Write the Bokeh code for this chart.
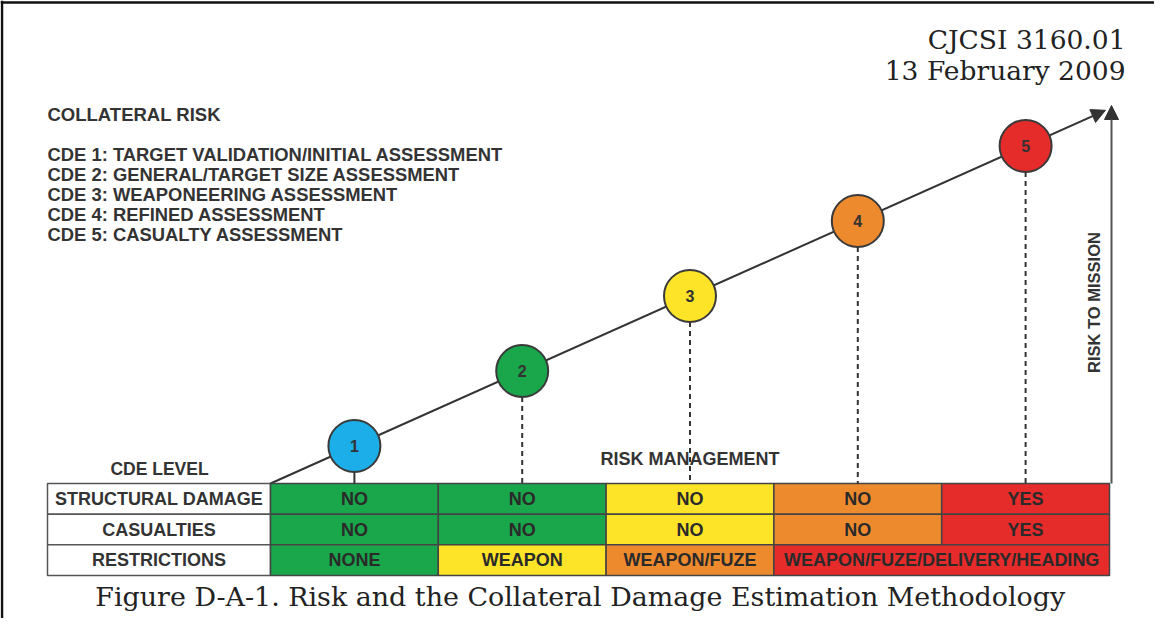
from bokeh.plotting import figure
from bokeh.models import Range1d, Arrow, NormalHead, ColumnDataSource, Span
from bokeh.core.properties import value
from bokeh.embed import file_html
from bokeh.resources import INLINE

# ---------------- data ----------------
levels = [1, 2, 3, 4, 5]
level_names = [
    "TARGET VALIDATION/INITIAL ASSESSMENT",
    "GENERAL/TARGET SIZE ASSESSMENT",
    "WEAPONEERING ASSESSMENT",
    "REFINED ASSESSMENT",
    "CASUALTY ASSESSMENT",
]
row_labels = ["STRUCTURAL DAMAGE", "CASUALTIES", "RESTRICTIONS"]
structural_damage = ["NO", "NO", "NO", "NO", "YES"]
casualties = ["NO", "NO", "NO", "NO", "YES"]
restrictions = ["NONE", "WEAPON", "WEAPON/FUZE", "WEAPON/FUZE/DELIVERY/HEADING"]
restriction_first_level = [1, 2, 3, 4]
restriction_last_level = [1, 2, 3, 5]
header_lines = ["CJCSI 3160.01", "13 February 2009"]
block_title = "COLLATERAL RISK"
caption = "Figure D-A-1.  Risk and the Collateral Damage Estimation Methodology"

# ---------------- styles ----------------
GREEN, YELLOW, ORANGE, RED, BLUE = "#1aa64a", "#fde428", "#ee8a2e", "#e62b2b", "#1caee8"
circle_colors = [BLUE, GREEN, YELLOW, ORANGE, RED]
cell_colors = [GREEN, GREEN, YELLOW, ORANGE, RED]
restriction_colors = [GREEN, YELLOW, ORANGE, RED]
INK = "#333333"
SANS = value("Liberation Sans")
SERIF = value("DejaVu Serif")

# ---------------- geometry ----------------
W, H = 1154, 618
PX = 167.8                      # screen pixels per CDE level column
XL = 0.5 - 270 / PX
XR = XL + W / PX
TABLE_TOP = 135.0
ROW_H = 30.67
LABEL_LEFT = 0.5 - 223 / PX
RISK_PER_LEVEL = 75.0
R_PX = 26


def risk_y(lv):
    return TABLE_TOP + (lv - 0.5) * RISK_PER_LEVEL


p = figure(width=W, height=H, output_backend="svg", toolbar_location=None,
           x_range=Range1d(XL, XR), y_range=Range1d(0, H),
           x_axis_type=None, y_axis_type=None, min_border=0)
p.outline_line_color = None
p.grid.visible = False
p.background_fill_color = "white"
p.border_fill_color = "white"

# page frame (top and left edges visible)
p.add_layout(Span(location=616, dimension="width", line_color="#111111", line_width=2.5))
p.add_layout(Span(location=XL + 1.5 / PX, dimension="height", line_color="#111111", line_width=2.5))

# ---------------- risk diagonal & arrows (beneath the circles) ----------------
x_tip = 5.476
p.add_layout(Arrow(end=NormalHead(size=14, fill_color=INK, line_color=INK),
                   x_start=0.5, y_start=TABLE_TOP, x_end=x_tip, y_end=risk_y(x_tip),
                   line_color=INK, line_width=2, level="underlay"))
x_vert = 5.5 + 2 / PX
p.add_layout(Arrow(end=NormalHead(size=14, fill_color=INK, line_color=INK),
                   x_start=x_vert, y_start=TABLE_TOP, x_end=x_vert, y_end=513,
                   line_color="#555555", line_width=2, level="underlay"))

# ---------------- table ----------------
row_top = [TABLE_TOP - i * ROW_H for i in range(3)]
# label column
p.quad(left=[LABEL_LEFT] * 3, right=[0.5] * 3,
       top=row_top, bottom=[t - ROW_H for t in row_top],
       fill_color="white", line_color="#555555", line_width=1.5)
p.text(x=[(LABEL_LEFT + 0.5) / 2] * 3, y=[t - ROW_H / 2 for t in row_top], text=row_labels,
       text_font=SANS, text_font_style="bold", text_font_size="18px", text_color=INK,
       text_align="center", text_baseline="middle")

# rows 1 and 2
for ri, vals in enumerate([structural_damage, casualties]):
    src = ColumnDataSource(dict(
        left=[lv - 0.5 for lv in levels], right=[lv + 0.5 for lv in levels],
        top=[row_top[ri]] * 5, bottom=[row_top[ri] - ROW_H] * 5,
        x=levels, y=[row_top[ri] - ROW_H / 2] * 5, txt=vals, color=cell_colors))
    p.quad(left="left", right="right", top="top", bottom="bottom", source=src,
           fill_color="color", line_color="#444444", line_width=1.5)
    p.text(x="x", y="y", text="txt", source=src, text_font=SANS, text_font_style="bold",
           text_font_size="18px", text_color="#2a2a2a", text_align="center", text_baseline="middle")

# restrictions row
src = ColumnDataSource(dict(
    left=[a - 0.5 for a in restriction_first_level], right=[b + 0.5 for b in restriction_last_level],
    top=[row_top[2]] * 4, bottom=[row_top[2] - ROW_H] * 4,
    x=[(a + b) / 2 for a, b in zip(restriction_first_level, restriction_last_level)],
    y=[row_top[2] - ROW_H / 2] * 4, txt=restrictions, color=restriction_colors))
p.quad(left="left", right="right", top="top", bottom="bottom", source=src,
       fill_color="color", line_color="#444444", line_width=1.5)
p.text(x="x", y="y", text="txt", source=src, text_font=SANS, text_font_style="bold",
       text_font_size="18px", text_color="#2a2a2a", text_align="center", text_baseline="middle")

# connectors from circles down to the table
cy = [risk_y(lv) for lv in levels]
p.segment(x0=levels[:1], y0=[cy[0] - R_PX], x1=levels[:1], y1=[TABLE_TOP],
          line_color=INK, line_width=2)
p.segment(x0=levels[1:], y0=[c - R_PX for c in cy[1:]], x1=levels[1:], y1=[TABLE_TOP] * 4,
          line_color=INK, line_width=2, line_dash="5 4")

# level circles
csrc = ColumnDataSource(dict(x=levels, y=cy, color=circle_colors, lbl=[str(l) for l in levels]))
p.scatter(x="x", y="y", source=csrc, size=2 * R_PX, fill_color="color",
          line_color="#3a3a3a", line_width=2)
p.text(x="x", y="y", text="lbl", source=csrc, text_font=SANS, text_font_style="bold",
       text_font_size="16px", text_color="#333333", text_align="center", text_baseline="middle")

# ---------------- labels ----------------
p.text(x=[0.5 - 111 / PX], y=[150], text=["CDE LEVEL"], text_font=SANS, text_font_style="bold",
       text_font_size="17.5px", text_color=INK, text_align="center", text_baseline="middle")
p.text(x=[3.0], y=[160], text=["RISK MANAGEMENT"], text_font=SANS, text_font_style="bold",
       text_font_size="18px", text_color=INK, text_align="center", text_baseline="middle")
p.text(x=[5.405], y=[316], text=["RISK TO MISSION"], angle=1.5708, text_font=SANS,
       text_font_style="bold", text_font_size="16.5px", text_color=INK,
       text_align="center", text_baseline="middle")

# collateral risk legend block
p.text(x=[LABEL_LEFT], y=[504], text=[block_title], text_font=SANS, text_font_style="bold",
       text_font_size="18.5px", text_color=INK, text_align="left", text_baseline="middle")
p.text(x=[LABEL_LEFT] * 5, y=[464 - (lv - 1) * 20 for lv in levels],
       text=[f"CDE {lv}: {nm}" for lv, nm in zip(levels, level_names)],
       text_font=SANS, text_font_style="bold", text_font_size="18.4px", text_color=INK,
       text_align="left", text_baseline="middle")

# document header (top right)
p.text(x=[0.5 + 855 / PX] * 2, y=[579, 548], text=header_lines, text_font=SERIF,
       text_font_size="26.5px", text_color="#222222", text_align="right", text_baseline="alphabetic")

# caption
p.text(x=[0.5 + 314 / PX], y=[22], text=[caption], text_font=SERIF,
       text_font_size="26.9px", text_color="#222222", text_align="center", text_baseline="alphabetic")

open("out.html", "w").write(file_html(p, INLINE))
